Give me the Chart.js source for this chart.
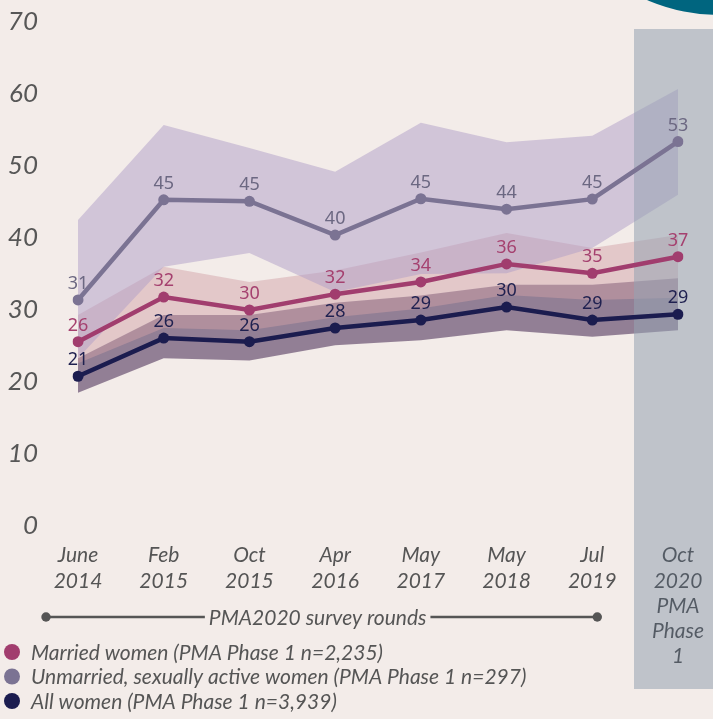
<!DOCTYPE html>
<html>
<head>
<meta charset="utf-8">
<script src="https://cdn.jsdelivr.net/npm/chart.js@4.4.1/dist/chart.umd.min.js"></script>
<style>
  html, body { margin: 0; padding: 0; background: #f3ece9; }
  canvas { display: block; }
</style>
</head>
<body>
<canvas id="chart" width="713" height="719"></canvas>
<script>
// survey rounds (x axis)
const surveyRounds = [
  ['June', '2014'], ['Feb', '2015'], ['Oct', '2015'], ['Apr', '2016'],
  ['May', '2017'], ['May', '2018'], ['Jul', '2019'], ['Oct', '2020', 'PMA', 'Phase', '1']
];

// estimates + confidence bands
const marriedPct    = [25.6, 31.8, 30.0, 32.2, 33.9, 36.4, 35.1, 37.4];
const marriedLow    = [22.6, 27.5, 27.2, 29.0, 30.2, 32.1, 31.4, 31.7];
const marriedHigh   = [29.3, 36.0, 33.9, 35.5, 38.0, 40.7, 38.6, 40.4];

const unmarriedPct  = [31.4, 45.3, 45.1, 40.4, 45.45, 44.0, 45.4, 53.4];
const unmarriedLow  = [23.3, 36.0, 37.9, 32.5, 35.0, 35.1, 38.6, 46.0];
const unmarriedHigh = [42.5, 55.7, 52.5, 49.2, 56.0, 53.3, 54.2, 60.7];

const allPct        = [20.8, 26.1, 25.6, 27.5, 28.6, 30.4, 28.6, 29.4];
const allLow        = [18.5, 23.3, 23.0, 25.1, 25.8, 27.2, 26.3, 27.2];
const allHigh       = [23.3, 29.3, 29.3, 31.0, 32.0, 33.5, 33.5, 34.4];

const seriesNames = [
  'Married women (PMA Phase 1 n=2,235)',
  'Unmarried, sexually active women (PMA Phase 1 n=297)',
  'All women (PMA Phase 1 n=3,939)'
];
const lineColors  = ['#a13d6e', '#7b7393', '#1b1c4f'];
const labelColors = ['#a5416f', '#6c6882', '#1f2150'];

function lineSet(label, data, color) {
  return {
    label: label, data: data, borderColor: color, backgroundColor: color,
    borderWidth: 4.5, pointRadius: 5.5, pointBorderWidth: 0, pointBackgroundColor: color,
    fill: false, tension: 0
  };
}

function bandSet(data, fill, color) {
  return {
    label: '', data: data, fill: fill, backgroundColor: color,
    borderWidth: 0, borderColor: 'rgba(0,0,0,0)', pointRadius: 0, pointHoverRadius: 0, tension: 0
  };
}

// datasets are painted from last to first, so bands go at the end
const datasets = [
  lineSet(seriesNames[0], marriedPct, lineColors[0]),
  lineSet(seriesNames[1], unmarriedPct, lineColors[1]),
  lineSet(seriesNames[2], allPct, lineColors[2]),
  bandSet(unmarriedHigh, '+1', 'rgba(175,157,200,0.5)'),
  bandSet(unmarriedLow, false, 'rgba(0,0,0,0)'),
  bandSet(marriedHigh, '+1', 'rgba(208,160,168,0.48)'),
  bandSet(marriedLow, false, 'rgba(0,0,0,0)'),
  bandSet(allHigh, '+1', 'rgba(135,115,140,0.9)'),
  bandSet(allLow, false, 'rgba(0,0,0,0)')
];

const decor = {
  id: 'decor',
  beforeDraw(chart) {
    const ctx = chart.ctx;
    ctx.save();
    ctx.fillStyle = '#f3ece9';
    ctx.fillRect(0, 0, chart.width, chart.height);
    // teal shape peeking in at the top right
    ctx.fillStyle = '#00657f';
    ctx.beginPath();
    ctx.arc(720, -170, 185, 0, Math.PI * 2);
    ctx.fill();
    ctx.restore();
  },
  beforeDatasetDraw(chart, args) {
    // Phase 1 panel goes over the bands, under the lines
    if (args.index !== 2) return;
    const ctx = chart.ctx;
    ctx.save();
    ctx.fillStyle = 'rgba(150,162,178,0.56)';
    ctx.fillRect(634, 29, chart.width - 634, 660);
    ctx.restore();
  },
  afterDatasetsDraw(chart) {
    const ctx = chart.ctx;
    ctx.save();
    ctx.font = '400 18px "Noto Sans"';
    ctx.textAlign = 'center';
    ctx.textBaseline = 'alphabetic';
    for (let d = 0; d < 3; d++) {
      const meta = chart.getDatasetMeta(d);
      ctx.fillStyle = labelColors[d];
      meta.data.forEach((pt, i) => {
        ctx.fillText(String(Math.round(chart.data.datasets[d].data[i])), pt.x, pt.y - 11);
      });
    }
    ctx.restore();
  },
  afterDraw(chart) {
    const ctx = chart.ctx;
    const xs = chart.scales.x;
    ctx.save();
    // PMA2020 survey rounds bracket
    const yLine = 617;
    const x0 = 46, x1 = xs.getPixelForValue(6) + 5;
    ctx.strokeStyle = '#555';
    ctx.fillStyle = '#555';
    ctx.lineWidth = 2.7;
    ctx.font = 'italic 21px Lato';
    ctx.textBaseline = 'middle';
    const txt = 'PMA2020 survey rounds';
    const tw = ctx.measureText(txt).width;
    const tx = (x0 + x1) / 2 - tw / 2 - 4;
    ctx.beginPath();
    ctx.moveTo(x0, yLine); ctx.lineTo(tx - 4, yLine);
    ctx.moveTo(tx + tw + 4, yLine); ctx.lineTo(x1, yLine);
    ctx.stroke();
    ctx.beginPath(); ctx.arc(x0, yLine, 4.7, 0, Math.PI * 2); ctx.fill();
    ctx.beginPath(); ctx.arc(x1, yLine, 4.7, 0, Math.PI * 2); ctx.fill();
    ctx.textAlign = 'left';
    ctx.fillText(txt, tx, yLine + 1);

    // legend
    ctx.font = 'italic 21px Lato';
    seriesNames.forEach((name, i) => {
      const y = 652 + i * 24.5;
      ctx.fillStyle = lineColors[i];
      ctx.beginPath(); ctx.arc(12, y, 8, 0, Math.PI * 2); ctx.fill();
      ctx.fillStyle = '#555';
      ctx.fillText(name, 31, y + 1);
    });
    ctx.restore();
  }
};

new Chart(document.getElementById('chart'), {
  type: 'line',
  data: { labels: surveyRounds, datasets: datasets },
  options: {
    responsive: false,
    devicePixelRatio: 1,
    animation: false,
    layout: { padding: { top: 22, right: 35, left: 0, bottom: 0 } },
    plugins: {
      legend: { display: false },
      tooltip: { enabled: false }
    },
    scales: {
      x: {
        grid: { display: false, drawTicks: true, tickLength: 17 },
        border: { display: false },
        ticks: {
          autoSkip: false, maxRotation: 0, padding: 0,
          color: (c) => c.index === 7 ? '#000' : '#555',
          font: { family: 'Lato', style: 'italic', size: 21, lineHeight: 1.2 }
        },
        afterFit: (s) => { s.height = 193; }
      },
      y: {
        min: 0, max: 70,
        grid: { display: false, drawTicks: true, tickLength: 40 },
        border: { display: false },
        ticks: {
          stepSize: 10, padding: 0, color: '#575757',
          font: { family: 'Lato', style: 'italic', size: 26 }
        },
        afterFit: (s) => { s.width = 78; }
      }
    }
  },
  plugins: [decor]
});
</script>
</body>
</html>
